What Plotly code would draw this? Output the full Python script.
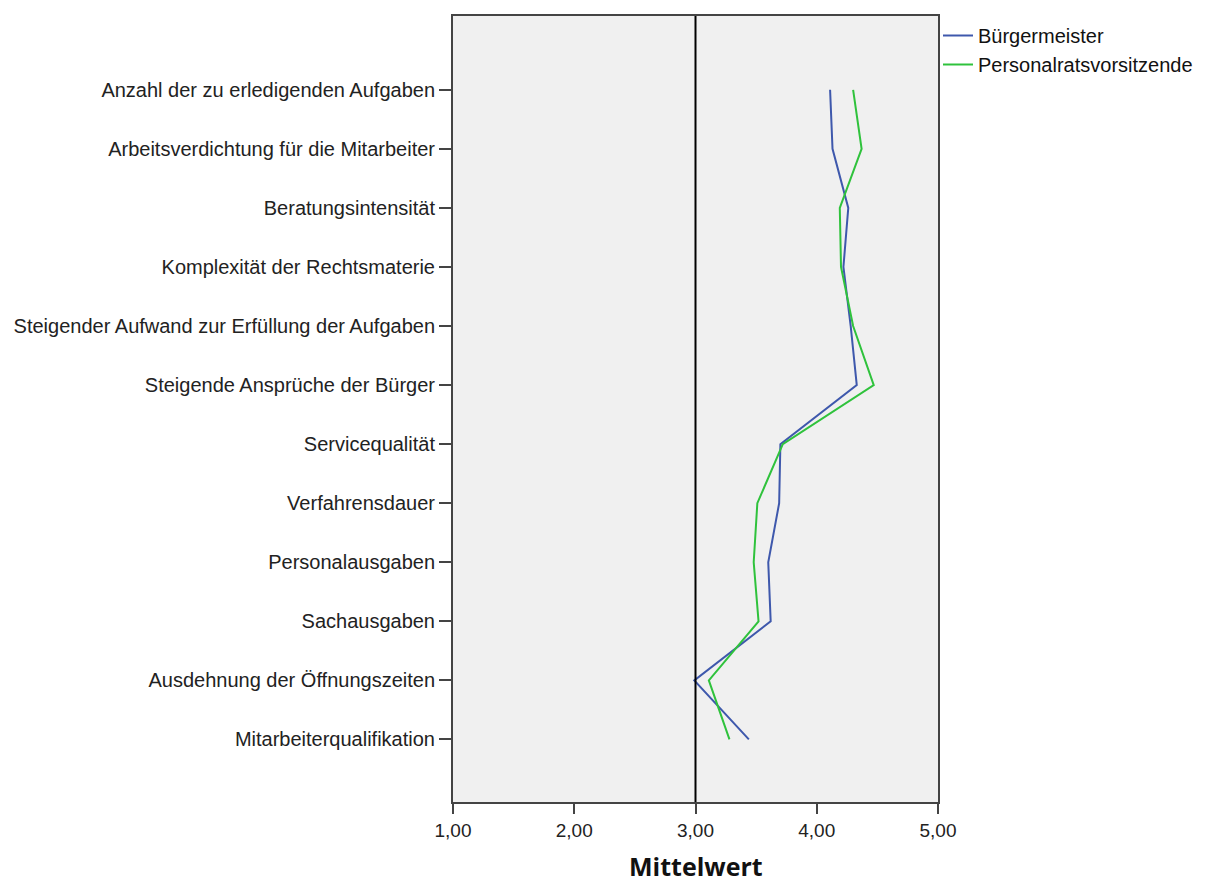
import plotly.graph_objects as go

categories = [
    "Anzahl der zu erledigenden Aufgaben",
    "Arbeitsverdichtung für die Mitarbeiter",
    "Beratungsintensität",
    "Komplexität der Rechtsmaterie",
    "Steigender Aufwand zur Erfüllung der Aufgaben",
    "Steigende Ansprüche der Bürger",
    "Servicequalität",
    "Verfahrensdauer",
    "Personalausgaben",
    "Sachausgaben",
    "Ausdehnung der Öffnungszeiten",
    "Mitarbeiterqualifikation",
]
buergermeister = [4.11, 4.13, 4.26, 4.22, 4.28, 4.33, 3.70, 3.69, 3.60, 3.62, 2.99, 3.44]
personalrat = [4.30, 4.37, 4.19, 4.20, 4.30, 4.47, 3.72, 3.51, 3.48, 3.52, 3.11, 3.28]
x_ticks = [1, 2, 3, 4, 5]
x_ticktext = ["1,00", "2,00", "3,00", "4,00", "5,00"]
x_title = "Mittelwert"

idx = list(range(len(categories)))
font = "Liberation Sans, Arial, sans-serif"

fig = go.Figure()
fig.add_trace(go.Scatter(x=buergermeister, y=idx, mode="lines", name="Bürgermeister",
                         line=dict(color="#3e58ac", width=2)))
fig.add_trace(go.Scatter(x=personalrat, y=idx, mode="lines", name="Personalratsvorsitzende",
                         line=dict(color="#2fc23c", width=2)))

fig.add_shape(type="line", x0=3, x1=3, y0=0, y1=1, yref="paper", xref="x",
              line=dict(color="#000000", width=2), layer="above")

fig.add_annotation(text="<b>" + x_title + "</b>", xref="paper", yref="paper", x=0.5, y=0,
                   xanchor="center", yanchor="middle", yshift=-64, showarrow=False,
                   font=dict(size=25, family="Open Sans, sans-serif", color="#111111"))

fig.update_layout(
    width=1199, height=876,
    margin=dict(l=443, r=269, t=6, b=82),
    paper_bgcolor="white",
    plot_bgcolor="#f0f0f0",
    font=dict(family=font, size=20, color="#222222"),
    showlegend=True,
    legend=dict(x=1.0, y=1.0, xanchor="left", yanchor="top", xref="paper", yref="paper",
                bgcolor="rgba(0,0,0,0)", font=dict(size=20, family=font, color="#111111"),
                tracegroupgap=0, itemwidth=30, borderwidth=0),
    xaxis=dict(range=[1, 5], tickvals=x_ticks, ticktext=x_ticktext,
               showgrid=False, zeroline=False, showline=True, linecolor="#444444", linewidth=2,
               mirror=True, ticks="outside", ticklen=10, tickwidth=2, tickcolor="#444444",
               tickfont=dict(size=19, family=font, color="#222222")),
    yaxis=dict(range=[12.06, -1.25], tickvals=idx, ticktext=categories,
               showgrid=False, zeroline=False, showline=True, linecolor="#444444", linewidth=2,
               mirror=True, ticks="outside", ticklen=12, tickwidth=2, tickcolor="#444444",
               tickfont=dict(size=20, family=font, color="#222222")),
)

fig.write_html("out.html")
